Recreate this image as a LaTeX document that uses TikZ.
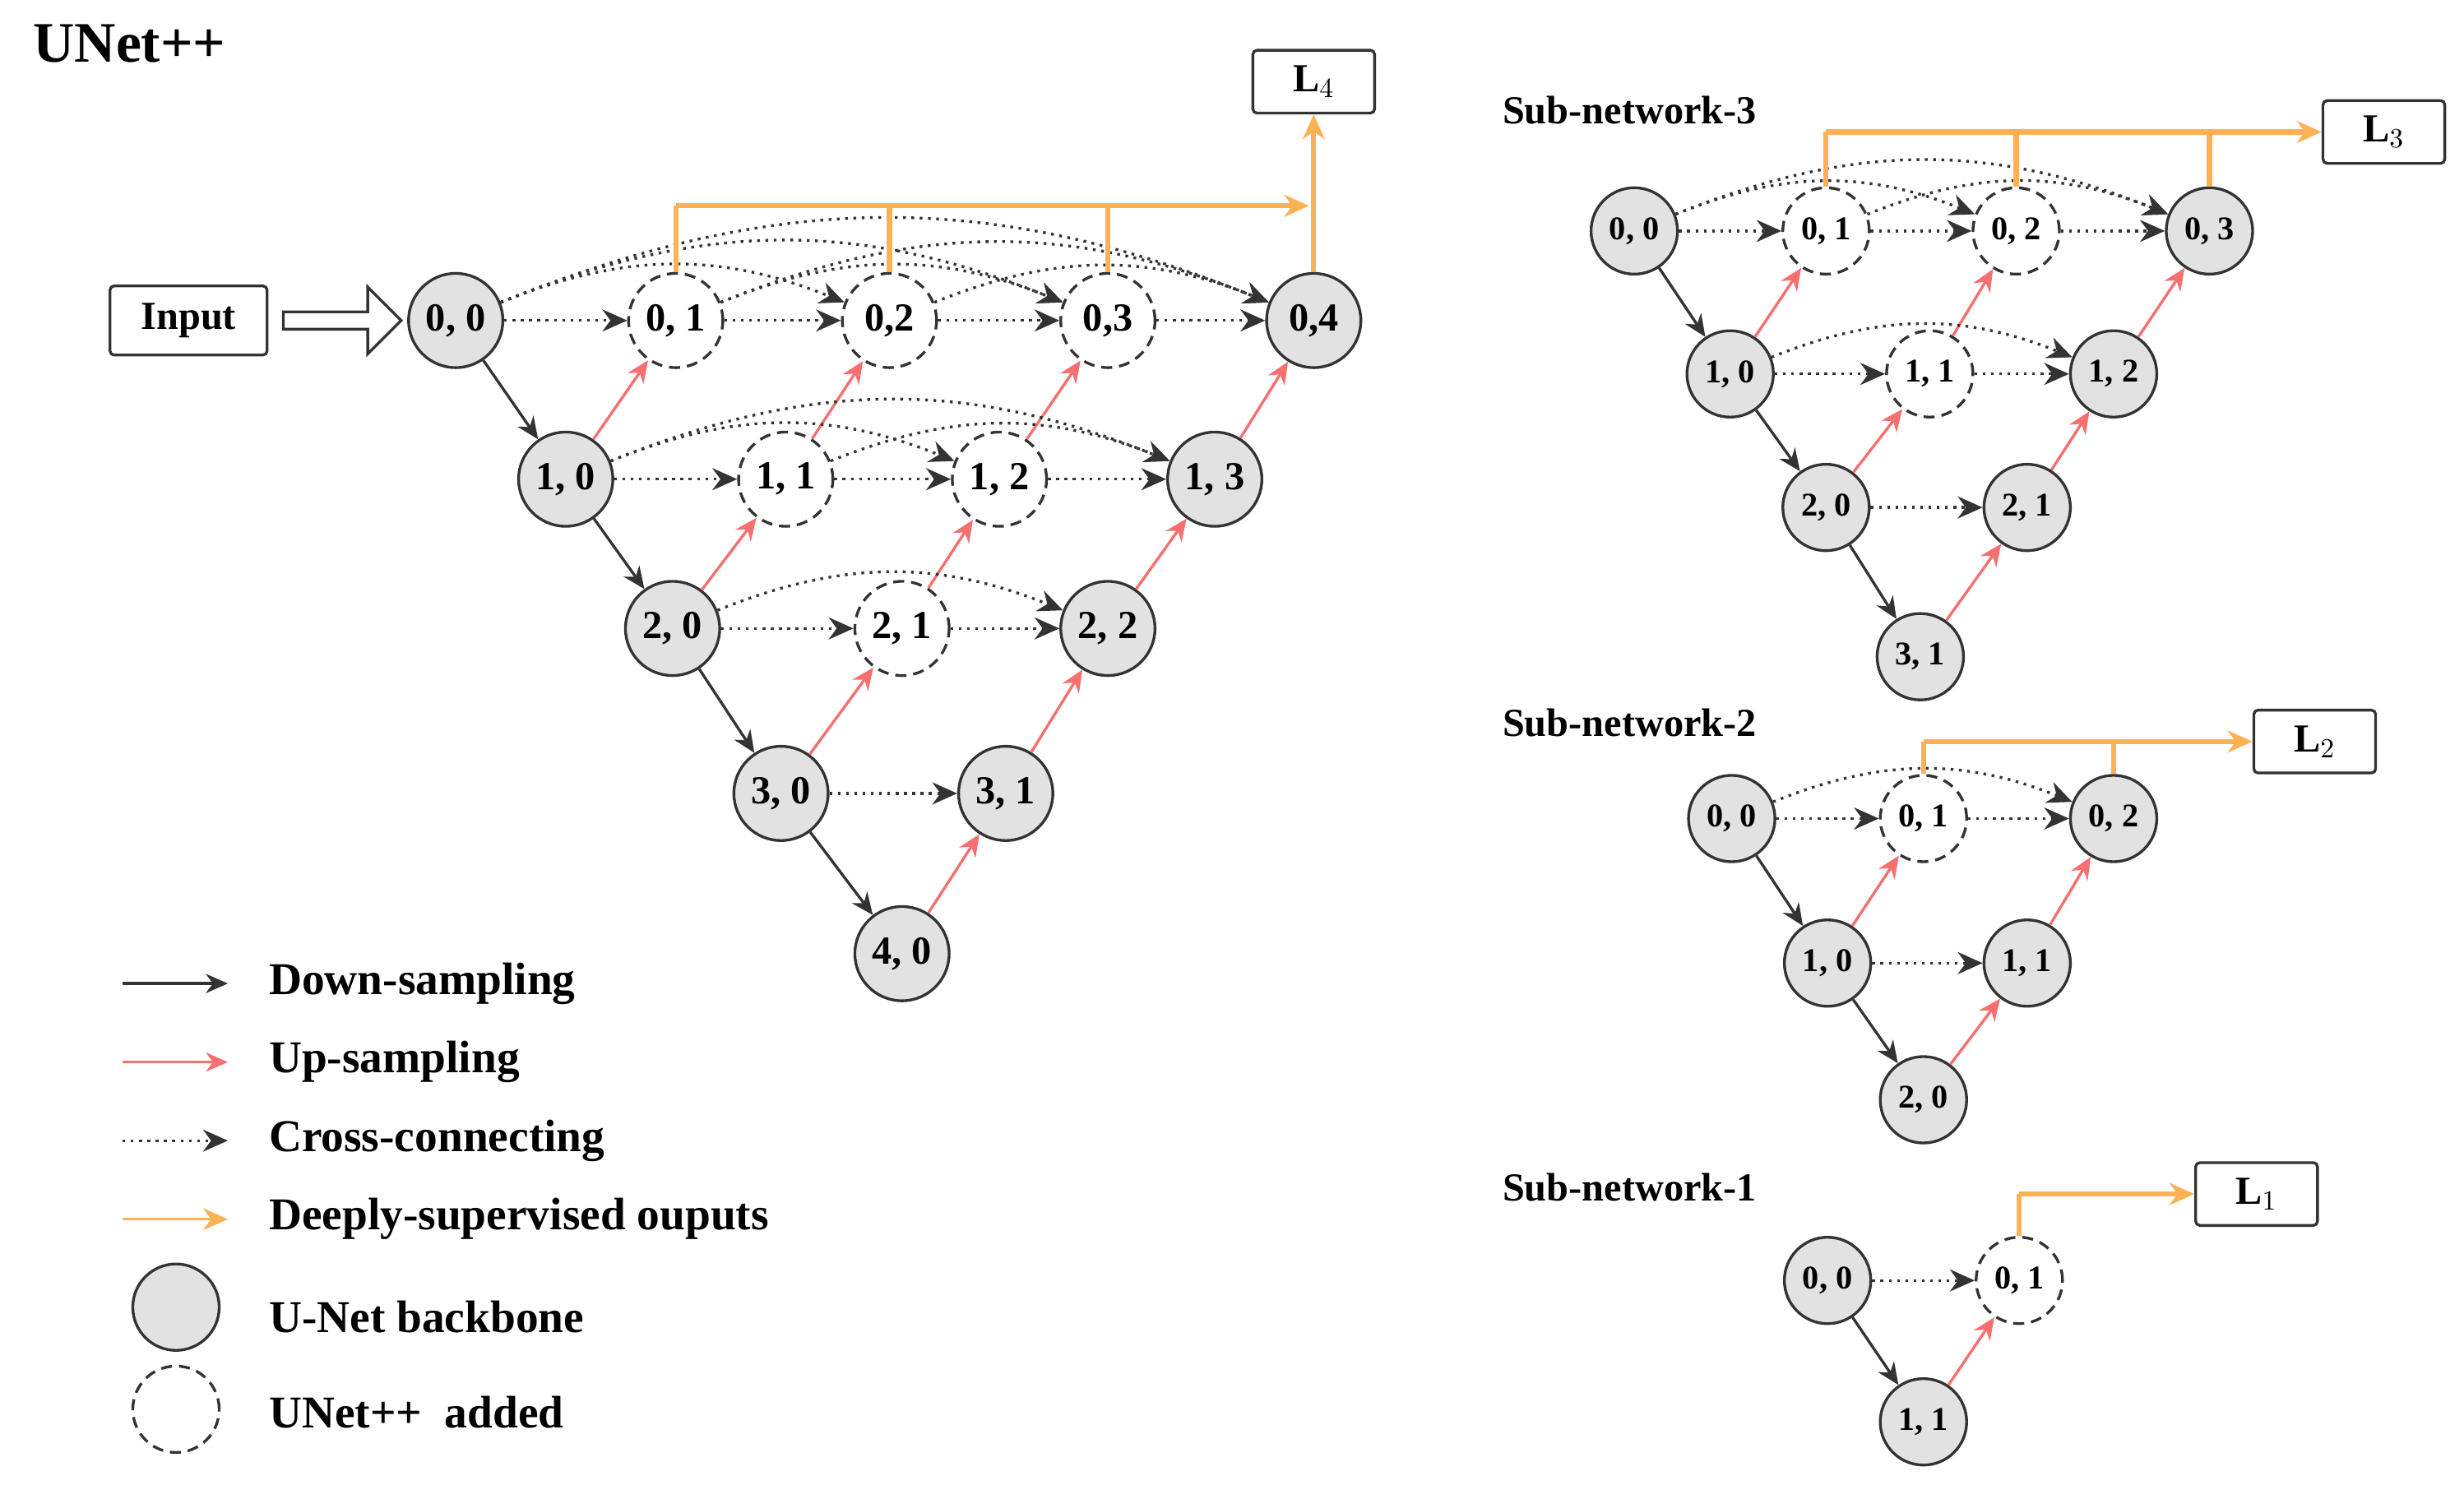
\documentclass[tikz,border=0pt]{standalone}
\usepackage{fontspec}
\setmainfont{Liberation Serif}
\usetikzlibrary{arrows.meta,shapes.arrows}
\definecolor{og}{HTML}{FDB155}
\definecolor{rd}{HTML}{F76F6F}
\definecolor{bg}{HTML}{E2E2E2}
\begin{document}
\begin{tikzpicture}[x=0.02cm,y=-0.02cm,font=\bfseries,
 bb/.style={circle,draw=black!80,fill=bg,line width=1pt,minimum size=1.2cm,inner sep=0,font=\Large\bfseries},
 ad/.style={circle,draw=black!80,dash pattern=on 4pt off 2.5pt,line width=1pt,minimum size=1.2cm,inner sep=0,font=\Large\bfseries},
 sbb/.style={bb,minimum size=1.1cm,font=\large\bfseries},
 sad/.style={ad,minimum size=1.1cm,font=\large\bfseries},
 dn/.style={-{Stealth[length=8pt,width=7pt]},black!80,line width=1pt},
 up/.style={-{Stealth[length=8pt,width=7pt]},rd,line width=1pt},
 cr/.style={-{Stealth[length=9pt,width=8pt]},black!80,dotted,line width=1pt},
 ds/.style={og,line width=1.8pt},
 dsa/.style={ds,-{Stealth[length=9pt,width=8pt]}},
 box/.style={draw=black!80,line width=1pt,rounded corners=1.5pt,minimum width=1.55cm,minimum height=0.8cm,font=\Large\bfseries},
 lab/.style={anchor=west,font=\fontsize{16.5}{19}\selectfont\bfseries}]
\useasboundingbox (0,0) rectangle (1568,945);
\node[anchor=west,font=\huge\bfseries] (t) at (15,28) {UNet++};
% main
\node[box,minimum width=2cm,minimum height=0.88cm] (in) at (120,204) {Input};
\foreach \n/\x/\y/\s in {00/290/204/bb,01/430/204/ad,02/566/204/ad,03/705/204/ad,04/836/204/bb,
 10/360/305/bb,11/500/305/ad,12/636/305/ad,13/773/305/bb,20/428/400/bb,21/574/400/ad,22/705/400/bb,
 30/497/505/bb,31/640/505/bb,40/574/607/bb}{\node[\s] (m\n) at (\x,\y) {};}
\node at (m00) {\Large 0, 0};\node at (m01) {\Large 0, 1};\node at (m02) {\Large 0,2};\node at (m03) {\Large 0,3};\node at (m04) {\Large 0,4};
\node at (m10) {\Large 1, 0};\node at (m11) {\Large 1, 1};\node at (m12) {\Large 1, 2};\node at (m13) {\Large 1, 3};
\node at (m20) {\Large 2, 0};\node at (m21) {\Large 2, 1};\node at (m22) {\Large 2, 2};
\node at (m30) {\Large 3, 0};\node at (m31) {\Large 3, 1};\node at (m40) {\Large 4, 0};
\node[single arrow,draw=black!80,line width=1pt,minimum height=1.5cm,minimum width=0.85cm,single arrow head extend=0.15cm,inner sep=1pt] (ia) at (215,204) {};
\foreach \a/\b in {00/10,10/20,20/30,30/40}{\draw[dn] (m\a)--(m\b);}
\foreach \a/\b in {10/01,20/11,11/02,30/21,21/12,12/03,40/31,31/22,22/13,13/04}{\draw[up] (m\a)--(m\b);}
\foreach \a/\b in {00/01,01/02,02/03,03/04,10/11,11/12,12/13,20/21,21/22,30/31}{\draw[cr] (m\a)--(m\b);}
\foreach \a/\b in {00/02,00/03,00/04,01/03,01/04,02/04,10/12,10/13,11/13,20/22}{\draw[cr] (m\a) to[bend left=22] (m\b);}
\node[box] (L4) at (836,52) {L$_4$};
\coordinate (o1) at (430,131);\coordinate (oe) at (833,131);
\draw[ds] (m01.north)--(o1);\draw[dsa] (o1)--(oe);
\draw[ds] (m02.north)--(566,131);\draw[ds] (m03.north)--(705,131);
\draw[dsa] (m04.north)--(L4.south);
% legend
\foreach \y/\s/\t in {626/dn/Down-sampling,676/up/Up-sampling,726/cr/Cross-connecting,776/dsa/Deeply-supervised ouputs}{
 \coordinate (la\y) at (78,\y);\coordinate (lb\y) at (145,\y);\draw[\s,line width=1pt] (la\y)--(lb\y);\node[lab] at (165,\y) {\t};}
\node[bb,minimum size=1.1cm] (lg1) at (112,832) {};\node[lab] at (165,838) {U-Net backbone};
\node[ad,minimum size=1.1cm] (lg2) at (112,897) {};\node[lab] at (165,899) {UNet++ \ added};
% sub3
\node[anchor=west,font=\Large\bfseries] at (950,70) {Sub-network-3};
\foreach \n/\x/\y/\s/\t in {00/1040/147/sbb/{0, 0},01/1162/147/sad/{0, 1},02/1283/147/sad/{0, 2},03/1406/147/sbb/{0, 3},
 10/1101/238/sbb/{1, 0},11/1228/238/sad/{1, 1},12/1345/238/sbb/{1, 2},20/1162/323/sbb/{2, 0},21/1290/323/sbb/{2, 1},30/1222/418/sbb/{3, 1}}{\node[\s] (a\n) at (\x,\y) {\t};}
\foreach \a/\b in {00/10,10/20,20/30}{\draw[dn] (a\a)--(a\b);}
\foreach \a/\b in {10/01,20/11,11/02,30/21,21/12,12/03}{\draw[up] (a\a)--(a\b);}
\foreach \a/\b in {00/01,01/02,02/03,10/11,11/12,20/21}{\draw[cr] (a\a)--(a\b);}
\foreach \a/\b in {00/02,00/03,01/03,10/12}{\draw[cr] (a\a) to[bend left=22] (a\b);}
\node[box] (L3) at (1517,84) {L$_3$};
\draw[ds] (a01.north)--(1162,84);\draw[dsa] (1162,84)--(L3.west);
\draw[ds] (a02.north)--(1283,84);\draw[ds] (a03.north)--(1406,84);
% sub2
\node[anchor=west,font=\Large\bfseries] at (950,460) {Sub-network-2};
\foreach \n/\x/\y/\s/\t in {00/1102/521/sbb/{0, 0},01/1224/521/sad/{0, 1},02/1345/521/sbb/{0, 2},
 10/1163/613/sbb/{1, 0},11/1290/613/sbb/{1, 1},20/1224/700/sbb/{2, 0}}{\node[\s] (b\n) at (\x,\y) {\t};}
\foreach \a/\b in {00/10,10/20}{\draw[dn] (b\a)--(b\b);}
\foreach \a/\b in {10/01,20/11,11/02}{\draw[up] (b\a)--(b\b);}
\foreach \a/\b in {00/01,01/02,10/11}{\draw[cr] (b\a)--(b\b);}
\draw[cr] (b00) to[bend left=22] (b02);
\node[box] (L2) at (1473,472) {L$_2$};
\draw[ds] (b01.north)--(1224,472);\draw[dsa] (1224,472)--(L2.west);
\draw[ds] (b02.north)--(1345,472);
% sub1
\node[anchor=west,font=\Large\bfseries] at (950,756) {Sub-network-1};
\foreach \n/\x/\y/\s/\t in {00/1163/815/sbb/{0, 0},01/1285/815/sad/{0, 1},11/1224/905/sbb/{1, 1}}{\node[\s] (c\n) at (\x,\y) {\t};}
\draw[dn] (c00)--(c11);\draw[up] (c11)--(c01);\draw[cr] (c00)--(c01);
\node[box] (L1) at (1436,760) {L$_1$};
\draw[ds] (c01.north)--(1285,760);\draw[dsa] (1285,760)--(L1.west);
\end{tikzpicture}
\end{document}
